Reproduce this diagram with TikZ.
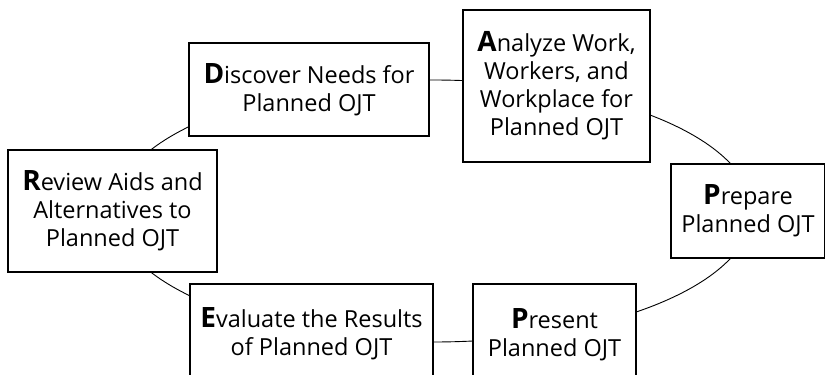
\documentclass[tikz,border=0pt]{standalone}
\usepackage{fontspec}
\setmainfont{Open Sans}
\usetikzlibrary{shapes.geometric}
\newcommand{\initial}[1]{{\fontsize{28}{28}\selectfont\bfseries #1}}

\begin{document}
\begin{tikzpicture}[
    x=1pt,y=-1pt,
    stage/.style={rectangle,draw,line width=1.3pt,fill=white,align=center,inner sep=0pt,
        font=\fontsize{23.5}{28}\selectfont},
    cycle/.style={ellipse,draw,line width=0.9pt,inner sep=0pt}
]
    \useasboundingbox (0,0) rectangle (825,375);
    \clip (0,0) rectangle (825,375);

    % Ring behind the stages
    \node[cycle,minimum width=638pt,minimum height=262pt] (ring) at (433,211) {};

    % Top row
    \node[stage,minimum width=240pt,minimum height=93pt] (discover) at (309,89.5)
        {\initial{D}iscover Needs for\\Planned OJT};
    \node[stage,minimum width=187pt,minimum height=152pt] (analyze) at (556.5,86)
        {\initial{A}nalyze Work,\\Workers, and\\Workplace for\\Planned OJT};

    % Sides
    \node[stage,minimum width=209pt,minimum height=122pt] (review) at (112.5,211)
        {\initial{R}eview Aids and\\Alternatives to\\Planned OJT};
    \node[stage,minimum width=154pt,minimum height=94pt] (prepare) at (748,211)
        {\initial{P}repare\\Planned OJT};

    % Bottom row
    \node[stage,minimum width=243pt,minimum height=100pt] (evaluate) at (311.5,334)
        {\initial{E}valuate the Results\\of Planned OJT};
    \node[stage,minimum width=163pt,minimum height=102pt] (present) at (554.5,335)
        {\initial{P}resent\\Planned OJT};
\end{tikzpicture}
\end{document}
